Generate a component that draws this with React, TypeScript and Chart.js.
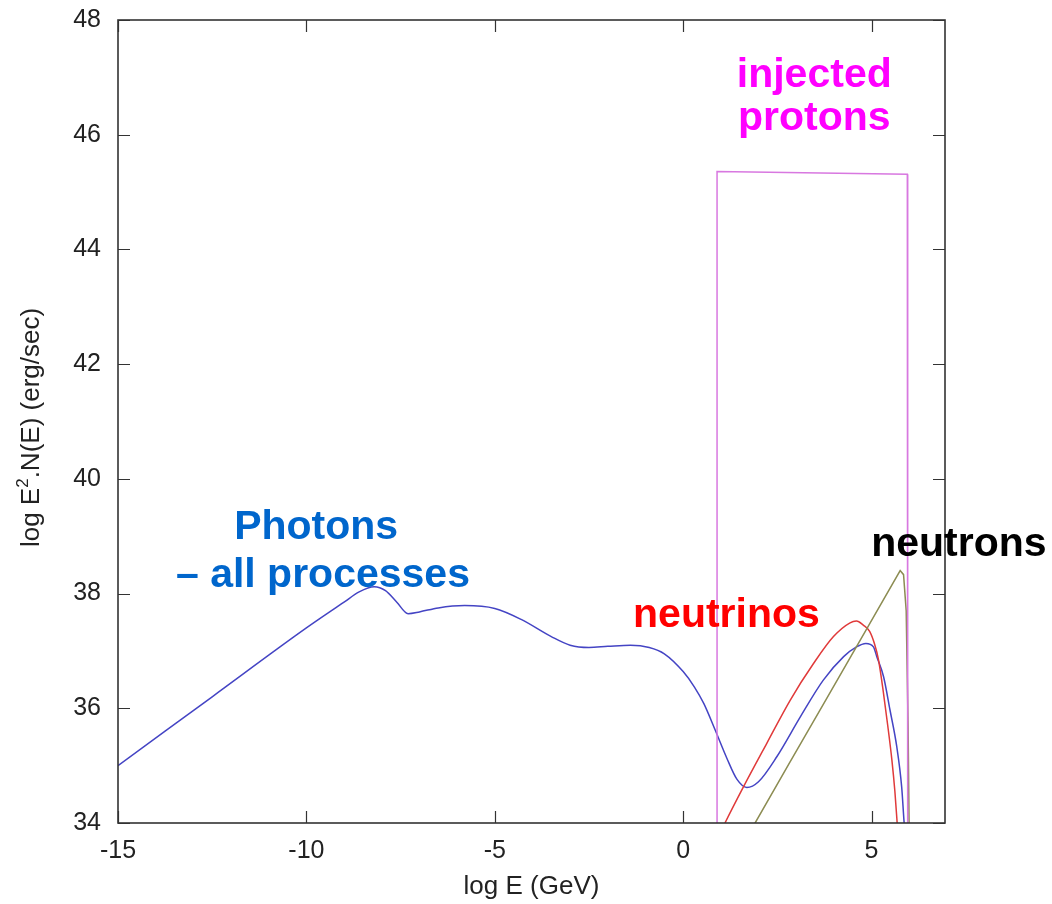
import React, { useEffect, useRef } from "react";
import { Chart, registerables } from "chart.js";

Chart.register(...registerables);

// ---- axes ----
const xTicks = [-15, -10, -5, 0, 5];
const yTicks = [34, 36, 38, 40, 42, 44, 46, 48];
const xMin = -15;
const xMax = 6.95;
const yMin = 34;
const yMax = 48;

// ---- series: log E (GeV) vs log E^2 N(E) ----
const photonsX = [-15, -12.5, -10, -9, -8.6, -8.2, -7.9, -7.6, -7.3, -7.0, -6.5, -5.8, -5.0, -4.3, -3.5, -3.0, -2.5, -2.0, -1.4, -0.9, -0.5, 0.0, 0.3, 0.55, 0.85, 1.16, 1.43, 1.69, 2.0, 2.49, 3.11, 3.72, 4.26, 4.6, 4.85, 5.05, 5.14, 5.32, 5.49, 5.67, 5.8, 5.86, 5.9];
const photonsY = [35.0, 36.2, 37.4, 37.85, 38.03, 38.12, 38.05, 37.85, 37.65, 37.68, 37.75, 37.79, 37.74, 37.55, 37.25, 37.1, 37.06, 37.08, 37.1, 37.06, 36.95, 36.64, 36.37, 36.08, 35.62, 35.13, 34.76, 34.62, 34.72, 35.16, 35.85, 36.49, 36.9, 37.07, 37.13, 37.07, 36.9, 36.55, 35.97, 35.33, 34.63, 34.05, 33.7];

const neutrinosX = [1.0, 1.11, 1.6, 2.22, 2.84, 3.46, 3.99, 4.43, 4.6, 4.78, 4.95, 5.08, 5.18, 5.31, 5.43, 5.54, 5.62, 5.68, 5.72];
const neutrinosY = [33.85, 34.0, 34.63, 35.39, 36.14, 36.78, 37.25, 37.49, 37.52, 37.45, 37.34, 37.12, 36.86, 36.3, 35.7, 35.1, 34.55, 34.0, 33.6];

const neutronsX = [1.8, 1.91, 2.8, 3.8, 4.8, 5.76, 5.85, 5.92, 5.97, 6.0];
const neutronsY = [33.88, 34.0, 35.02, 36.16, 37.3, 38.4, 38.33, 37.7, 35.7, 33.8];

const protonsX = [0.9, 0.9, 5.95, 5.96];
const protonsY = [33.0, 45.36, 45.31, 33.0];

// ---- text labels ----
const annotations = [
  { text: "injected", x: 3.48, y: 46.83, color: "#ff00ff", align: "center" },
  { text: "protons", x: 3.48, y: 46.08, color: "#ff00ff", align: "center" },
  { text: "Photons", x: -9.74, y: 38.95, color: "#0066cc", align: "center" },
  { text: "\u2013 all processes", x: -9.56, y: 38.11, color: "#0066cc", align: "center" },
  { text: "neutrons", x: 4.99, y: 38.66, color: "#000000", align: "left" },
  { text: "neutrinos", x: -1.33, y: 37.42, color: "#ff0000", align: "left" },
];

const FONT = "'Liberation Sans', Arial, sans-serif";
const TICK_SIZE = 25;
const TITLE_SIZE = 26;

const zip = (xs: number[], ys: number[]) => xs.map((x, i) => ({ x, y: ys[i] }));

const framePlugin = {
  id: "framePlugin",
  afterDatasetsDraw(chart: any) {
    const { ctx, chartArea: a, scales } = chart;
    const sx = scales.x;
    const sy = scales.y;
    ctx.save();
    // inward ticks on all four sides
    ctx.strokeStyle = "#333";
    ctx.lineWidth = 1.2;
    const tl = 12;
    ctx.beginPath();
    for (const v of xTicks) {
      const px = Math.round(sx.getPixelForValue(v)) + 0.5;
      ctx.moveTo(px, a.bottom);
      ctx.lineTo(px, a.bottom - tl);
      ctx.moveTo(px, a.top);
      ctx.lineTo(px, a.top + tl);
    }
    for (const v of yTicks) {
      const py = Math.round(sy.getPixelForValue(v)) + 0.5;
      ctx.moveTo(a.left, py);
      ctx.lineTo(a.left + tl, py);
      ctx.moveTo(a.right, py);
      ctx.lineTo(a.right - tl, py);
    }
    ctx.stroke();
    // frame
    ctx.lineWidth = 1.6;
    ctx.strokeStyle = "#333";
    ctx.strokeRect(a.left, a.top, a.right - a.left, a.bottom - a.top);

    // annotations
    ctx.font = `bold 41px ${FONT}`;
    ctx.textBaseline = "alphabetic";
    for (const an of annotations) {
      ctx.fillStyle = an.color;
      ctx.textAlign = an.align as CanvasTextAlign;
      ctx.fillText(an.text, sx.getPixelForValue(an.x), sy.getPixelForValue(an.y));
    }

    // x axis title
    ctx.fillStyle = "#222";
    ctx.font = `${TITLE_SIZE}px ${FONT}`;
    ctx.textAlign = "center";
    ctx.fillText("log E (GeV)", (a.left + a.right) / 2, 894);

    // y axis title with superscript
    const p1 = "log E";
    const sup = "2";
    const p2 = ".N(E) (erg/sec)";
    ctx.font = `${TITLE_SIZE}px ${FONT}`;
    const w1 = ctx.measureText(p1).width;
    const w3 = ctx.measureText(p2).width;
    ctx.font = `17px ${FONT}`;
    const w2 = ctx.measureText(sup).width;
    const total = w1 + w2 + w3;
    ctx.translate(39, (a.top + a.bottom) / 2 + 6);
    ctx.rotate(-Math.PI / 2);
    ctx.textAlign = "left";
    let cx = -total / 2;
    ctx.font = `${TITLE_SIZE}px ${FONT}`;
    ctx.fillText(p1, cx, 0);
    cx += w1;
    ctx.font = `17px ${FONT}`;
    ctx.fillText(sup, cx, -11);
    cx += w2;
    ctx.font = `${TITLE_SIZE}px ${FONT}`;
    ctx.fillText(p2, cx, 0);
    ctx.restore();
  },
};

export default function App() {
  const ref = useRef<HTMLCanvasElement>(null);

  useEffect(() => {
    if (!ref.current) return;
    const line = (data: { x: number; y: number }[], color: string, smooth: boolean) => ({
      data,
      borderColor: color,
      borderWidth: 1.5,
      pointRadius: 0,
      showLine: true,
      fill: false,
      tension: smooth ? 0.4 : 0,
      cubicInterpolationMode: smooth ? ("monotone" as const) : ("default" as const),
    });
    const chart = new Chart(ref.current, {
      type: "scatter",
      data: {
        datasets: [
          { label: "injected protons", ...line(zip(protonsX, protonsY), "#d878e0", false) },
          { label: "neutrons", ...line(zip(neutronsX, neutronsY), "#8c8c52", false) },
          { label: "neutrinos", ...line(zip(neutrinosX, neutrinosY), "#e03a3a", true) },
          { label: "photons", ...line(zip(photonsX, photonsY), "#4444c4", true) },
        ],
      },
      options: {
        responsive: false,
        animation: false,
        events: [],
        layout: { padding: { top: 20, right: 107, left: 0, bottom: 0 } },
        plugins: { legend: { display: false }, tooltip: { enabled: false } },
        scales: {
          x: {
            type: "linear",
            min: xMin,
            max: xMax,
            grid: { display: false, drawTicks: false },
            border: { display: false },
            afterBuildTicks: (s: any) => {
              s.ticks = xTicks.map((v) => ({ value: v }));
            },
            afterFit: (s: any) => {
              s.height = 81;
              s.paddingLeft = 0;
              s.paddingRight = 0;
            },
            ticks: {
              padding: 13,
              color: "#222",
              font: { family: FONT, size: TICK_SIZE },
              maxRotation: 0,
              autoSkip: false,
            },
          },
          y: {
            type: "linear",
            min: yMin,
            max: yMax,
            grid: { display: false, drawTicks: false },
            border: { display: false },
            afterBuildTicks: (s: any) => {
              s.ticks = yTicks.map((v) => ({ value: v }));
            },
            afterFit: (s: any) => {
              s.width = 118;
              s.paddingTop = 0;
              s.paddingBottom = 0;
            },
            ticks: {
              padding: 17,
              color: "#222",
              font: { family: FONT, size: TICK_SIZE },
              autoSkip: false,
            },
          },
        },
      },
      plugins: [framePlugin],
    });
    return () => chart.destroy();
  }, []);

  return (
    <div style={{ position: "fixed", left: 0, top: 0, width: 1052, height: 904, background: "#fff" }}>
      <canvas ref={ref} width={1052} height={904} style={{ display: "block" }} />
    </div>
  );
}
